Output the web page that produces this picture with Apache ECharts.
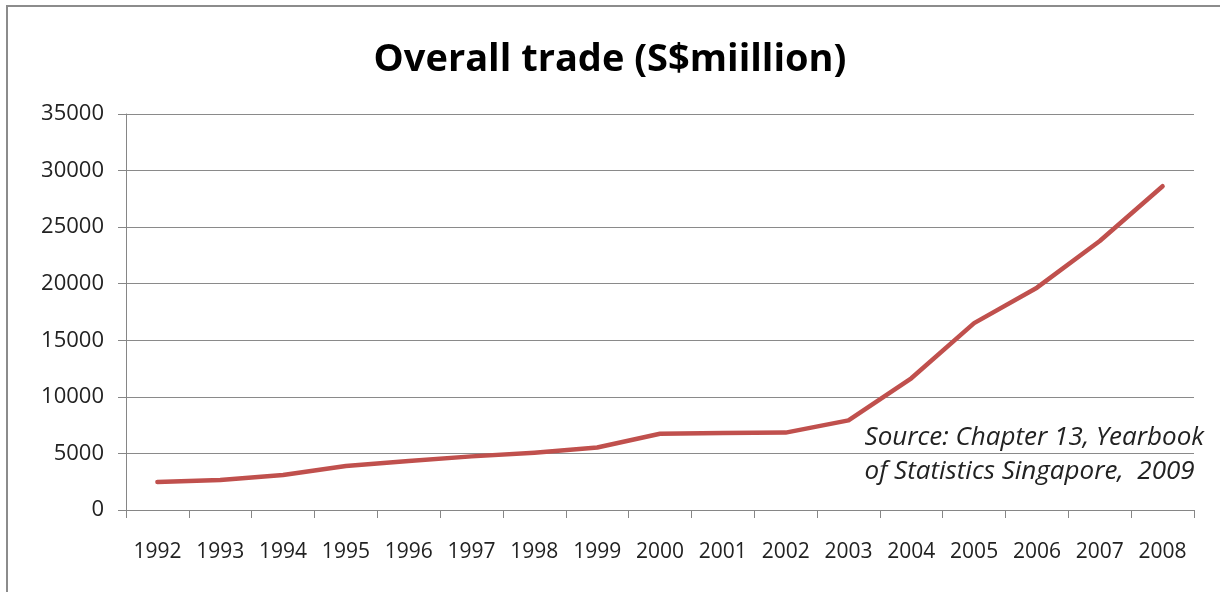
<!DOCTYPE html>
<html>
<head>
<meta charset="utf-8">
<script src="https://cdn.jsdelivr.net/npm/echarts@6/dist/echarts.min.js"></script>
<style>
html,body{margin:0;padding:0;background:#fff;}
#chart{width:1220px;height:592px;}
</style>
</head>
<body>
<div id="chart"></div>
<script>
const titleText = 'Overall trade (S$miillion)';
const years = ['1992','1993','1994','1995','1996','1997','1998','1999','2000','2001','2002','2003','2004','2005','2006','2007','2008'];
const tradeValues = [2480, 2650, 3100, 3890, 4330, 4740, 5070, 5520, 6740, 6800, 6840, 7920, 11640, 16520, 19650, 23780, 28620];
const yTicks = [0, 5000, 10000, 15000, 20000, 25000, 30000, 35000];
const sourceLines = ['Source: Chapter 13, Yearbook', 'of Statistics Singapore,  2009'];

const chart = echarts.init(document.getElementById('chart'), null, {renderer: 'canvas'});
const font = '"Open Sans", "Liberation Sans", sans-serif';
chart.setOption({
  animation: false,
  backgroundColor: '#ffffff',
  title: {
    text: titleText,
    left: 'center',
    top: 36,
    textStyle: {fontFamily: font, fontWeight: 'bold', fontSize: 38, color: '#000'}
  },
  grid: {left: 126, right: 26, top: 114, bottom: 82, containLabel: false},
  xAxis: {
    type: 'category',
    data: years,
    boundaryGap: true,
    axisLine: {lineStyle: {color: '#868686', width: 1}},
    axisTick: {show: true, alignWithLabel: false, length: 8, lineStyle: {color: '#868686'}},
    axisLabel: {fontFamily: font, fontSize: 21, color: '#222', margin: 32, interval: 0}
  },
  yAxis: {
    type: 'value',
    min: yTicks[0],
    max: yTicks[yTicks.length - 1],
    interval: yTicks[1] - yTicks[0],
    axisLine: {show: true, lineStyle: {color: '#868686', width: 1}},
    axisTick: {show: true, length: 8, lineStyle: {color: '#868686'}},
    axisLabel: {fontFamily: font, fontSize: 22, color: '#222', margin: 22, formatter: v => String(v)},
    splitLine: {show: true, lineStyle: {color: '#8a8a8a', width: 1}}
  },
  series: [{
    type: 'line',
    data: tradeValues,
    symbol: 'none',
    smooth: false,
    lineStyle: {color: '#C0504D', width: 4.5, cap: 'round', join: 'round'}
  }],
  graphic: [
    {type: 'line', shape: {x1: 7, y1: 6, x2: 7, y2: 592}, style: {stroke: '#8c8c8c', lineWidth: 2}},
    {type: 'line', shape: {x1: 6, y1: 6, x2: 1220, y2: 6}, style: {stroke: '#8c8c8c', lineWidth: 2}},
    {type: 'text', right: 16, top: 421, style: {
      text: sourceLines.join('\n'), fontFamily: font, fontStyle: 'italic', fontSize: 26,
      lineHeight: 34, fill: '#222', textAlign: 'left'
    }}
  ]
});
</script>
</body>
</html>
